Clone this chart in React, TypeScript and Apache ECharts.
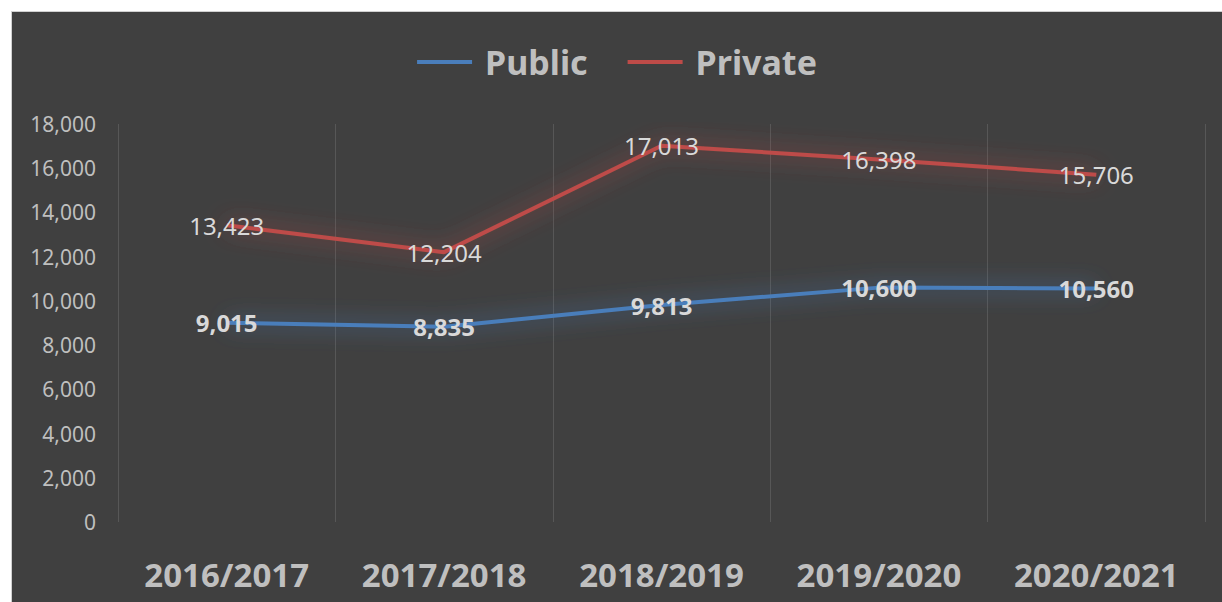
import React, { useEffect, useRef } from "react";
import * as echarts from "echarts";

const categories = ["2016/2017", "2017/2018", "2018/2019", "2019/2020", "2020/2021"];
const publicValues = [9015, 8835, 9813, 10600, 10560];
const privateValues = [13423, 12204, 17013, 16398, 15706];
const seriesNames = ["Public", "Private"];
const seriesColors = ["#4a7ebb", "#be4b48"];

const FONT = "'Noto Sans', sans-serif";

export default function App() {
  const ref = useRef<HTMLDivElement>(null);
  useEffect(() => {
    if (!ref.current) return;
    const chart = echarts.init(ref.current, null, { renderer: "svg" });
    const fmt = (v: number) => v.toLocaleString("en-US");
    chart.setOption({
      animation: false,
      backgroundColor: "#404040",
      textStyle: { fontFamily: FONT },
      legend: {
        top: 28,
        left: "center",
        icon: "rect",
        itemWidth: 55,
        itemHeight: 4,
        itemGap: 40,
        textStyle: { color: "#bfbfbf", fontSize: 34, fontWeight: "bold", fontFamily: FONT, padding: [0, 0, 0, 8] },
        data: seriesNames.map((n, i) => ({ name: n, itemStyle: { color: seriesColors[i] } })),
      },
      grid: { left: 106, right: 17, top: 112, bottom: 80 },
      xAxis: {
        type: "category",
        data: categories,
        boundaryGap: true,
        axisLine: { show: false },
        axisTick: { show: false },
        splitLine: { show: true, lineStyle: { color: "#575757", width: 1 } },
        axisLabel: { color: "#bfbfbf", fontSize: 33, fontWeight: "bold", margin: 36, fontFamily: FONT },
      },
      yAxis: {
        type: "value",
        min: 0,
        max: 18000,
        interval: 2000,
        axisLine: { show: false },
        axisTick: { show: false },
        splitLine: { show: false },
        axisLabel: { color: "#bfbfbf", fontSize: 21, margin: 22, fontFamily: FONT, formatter: (v: number) => fmt(v) },
      },
      series: [
        {
          name: seriesNames[0],
          type: "line",
          data: publicValues,
          symbol: "circle",
          symbolSize: 1,
          showSymbol: true,
          itemStyle: { color: "rgba(0,0,0,0)" },
          color: seriesColors[0],
          lineStyle: { width: 4, color: seriesColors[0], shadowBlur: 22, shadowColor: "rgba(74,126,187,1)" },
          label: {
            show: true,
            position: "inside",
            color: "#d9d9d9",
            fontSize: 24,
            fontWeight: "bold",
            fontFamily: FONT,
            formatter: (p: any) => fmt(p.value),
          },
        },
        {
          name: seriesNames[1],
          type: "line",
          data: privateValues,
          symbol: "circle",
          symbolSize: 1,
          showSymbol: true,
          itemStyle: { color: "rgba(0,0,0,0)" },
          color: seriesColors[1],
          lineStyle: { width: 4, color: seriesColors[1], shadowBlur: 22, shadowColor: "rgba(190,75,72,1)" },
          label: {
            show: true,
            position: "inside",
            color: "#d9d9d9",
            fontSize: 24,
            fontFamily: FONT,
            formatter: (p: any) => fmt(p.value),
          },
        },
      ],
    });
    return () => chart.dispose();
  }, []);

  return (
    <div style={{ position: "absolute", left: 0, top: 0, width: 1222, height: 602, background: "#ffffff", overflow: "hidden" }}>
      <div style={{ position: "absolute", left: 11, top: 11, width: 1211, height: 591, background: "#d0d0d0" }} />
      <div ref={ref} style={{ position: "absolute", left: 12, top: 12, width: 1210, height: 590 }} />
    </div>
  );
}
